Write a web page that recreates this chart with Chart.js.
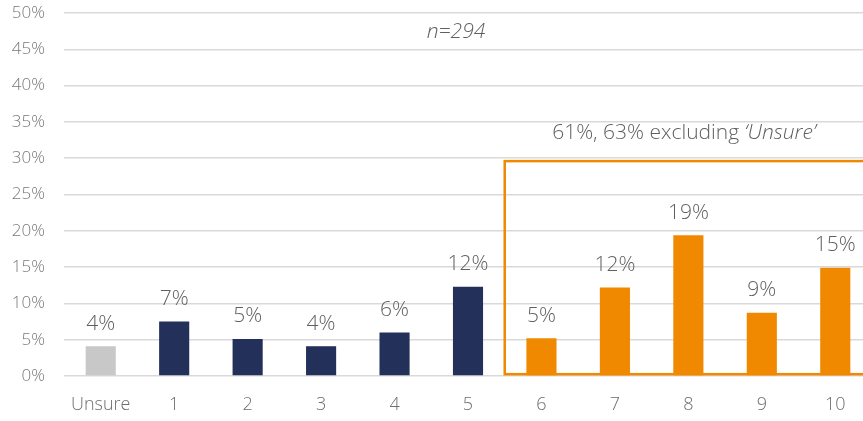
<!DOCTYPE html>
<html>
<head>
<meta charset="utf-8">
<script src="https://cdn.jsdelivr.net/npm/chart.js@4/dist/chart.umd.min.js"></script>
<style>
    body { margin: 0; background: #fff; overflow: hidden; }
    #holder { width: 872px; height: 421px; }
</style>
</head>
<body>
<div id="holder"><canvas id="chart"></canvas></div>
<script>
const categories = ['Unsure', '1', '2', '3', '4', '5', '6', '7', '8', '9', '10'];
const values = [4.1, 7.5, 5.1, 4.1, 6.0, 12.3, 5.2, 12.2, 19.4, 8.7, 14.9];
const valueLabels = ['4%', '7%', '5%', '4%', '6%', '12%', '5%', '12%', '19%', '9%', '15%'];
const barColors = ['#c8c8c8', '#22305a', '#22305a', '#22305a', '#22305a', '#22305a',
    '#f08800', '#f08800', '#f08800', '#f08800', '#f08800'];
const yTicks = [0, 5, 10, 15, 20, 25, 30, 35, 40, 45, 50];
const sampleNote = 'n=294';
const boxNote = ['61%, 63% excluding ', '\u2018Unsure\u2019'];
const boxTop = 29.6;

const FONT = "'Open Sans', sans-serif";

// labels above each bar
const barLabels = {
    id: 'barLabels',
    afterDatasetsDraw(chart) {
        const ctx = chart.ctx;
        const meta = chart.getDatasetMeta(0);
        ctx.save();
        ctx.font = '300 21px ' + FONT;
        ctx.fillStyle = '#5f5f5f';
        ctx.textAlign = 'center';
        ctx.textBaseline = 'bottom';
        meta.data.forEach((bar, i) => {
            ctx.fillText(valueLabels[i], bar.x, bar.y - 12);
        });
        ctx.restore();
    }
};

// orange box round 6-10, and the two notes
const notes = {
    id: 'notes',
    afterDraw(chart) {
        const ctx = chart.ctx;
        const x = chart.scales.x, y = chart.scales.y;
        const x5 = x.getPixelForValue(5), x6 = x.getPixelForValue(6);
        const left = (x5 + x6) / 2;
        const top = y.getPixelForValue(boxTop);
        const bottom = y.getPixelForValue(0.25);
        ctx.save();
        ctx.strokeStyle = '#f08800';
        ctx.lineWidth = 2.5;
        ctx.strokeRect(left, top, chart.width + 20 - left, bottom - top);

        ctx.fillStyle = '#5f5f5f';
        ctx.textBaseline = 'middle';
        ctx.textAlign = 'center';
        ctx.font = 'italic 300 21px ' + FONT;
        ctx.fillText(sampleNote, 456, 32);

        ctx.textAlign = 'left';
        ctx.font = '300 21px ' + FONT;
        const w1 = ctx.measureText(boxNote[0]).width;
        ctx.font = 'italic 300 21px ' + FONT;
        const w2 = ctx.measureText(boxNote[1]).width;
        let sx = 684 - (w1 + w2) / 2;
        ctx.font = '300 21px ' + FONT;
        ctx.fillText(boxNote[0], sx, 133);
        ctx.font = 'italic 300 21px ' + FONT;
        ctx.fillText(boxNote[1], sx + w1, 133);
        ctx.restore();
    }
};

const config = {
    type: 'bar',
    data: {
        labels: categories,
        datasets: [{
            data: values,
            backgroundColor: barColors,
            borderWidth: 0,
            categoryPercentage: 1,
            barPercentage: 0.41
        }]
    },
    options: {
        responsive: true,
        maintainAspectRatio: false,
        animation: false,
        layout: { padding: { top: 13, right: 0, left: 0, bottom: 0 } },
        plugins: {
            legend: { display: false },
            tooltip: { enabled: false }
        },
        scales: {
            x: {
                grid: { display: false },
                border: { display: false },
                ticks: {
                    color: '#6e6e6e',
                    font: { family: FONT, size: 18, weight: 300 },
                    padding: 10
                },
                afterFit(scale) {
                    scale.height = 45;
                    scale.paddingLeft = 0;
                    scale.paddingRight = 0;
                }
            },
            y: {
                min: 0,
                max: 50,
                afterBuildTicks(scale) {
                    scale.ticks = yTicks.map(v => ({ value: v }));
                },
                grid: { color: '#d9d9d9', lineWidth: 1.5, drawTicks: false },
                border: { display: false },
                ticks: {
                    color: '#7a7a7a',
                    font: { family: FONT, size: 17, weight: 300 },
                    padding: 19,
                    callback: v => v + '%'
                },
                afterFit(scale) {
                    scale.width = 64;
                    scale.paddingTop = 0;
                    scale.paddingBottom = 0;
                }
            }
        }
    },
    plugins: [barLabels, notes]
};

window.onload = () => {
    const ctx = document.getElementById('chart').getContext('2d');
    window.myChart = new Chart(ctx, config);
};
</script>
</body>
</html>
